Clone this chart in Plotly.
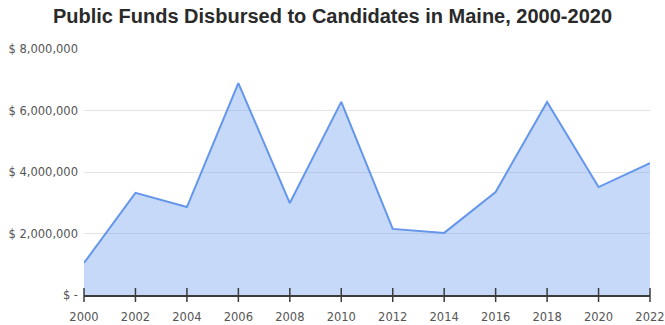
import plotly.graph_objects as go

years = [2000, 2002, 2004, 2006, 2008, 2010, 2012, 2014, 2016, 2018, 2020, 2022]
funds = [1040000, 3320000, 2860000, 6890000, 2990000, 6280000,
         2150000, 2020000, 3350000, 6280000, 3510000, 4290000]
y_ticks = [0, 2000000, 4000000, 6000000, 8000000]
y_tick_labels = ["$ -", "$ 2,000,000", "$ 4,000,000", "$ 6,000,000", "$ 8,000,000"]
title = "Public Funds Disbursed to Candidates in Maine, 2000-2020"

fig = go.Figure()
fig.add_trace(go.Scatter(
    x=years, y=funds, mode="lines", fill="tozeroy",
    line=dict(color="#6496ec", width=2),
    fillcolor="rgba(120,165,240,0.42)",
    hoverinfo="x+y", showlegend=False,
))
# tick marks crossing the x axis line, one per year
fig.add_trace(go.Scatter(
    x=years, y=[0] * len(years), mode="markers", cliponaxis=False,
    marker=dict(symbol="line-ns", size=10, line=dict(color="#3c3c3c", width=1.5)),
    hoverinfo="skip", showlegend=False,
))

fig.update_layout(
    width=665, height=325,
    margin=dict(l=84, r=15, t=49, b=30, autoexpand=False),
    paper_bgcolor="white", plot_bgcolor="white",
    title=dict(text=title, x=0.5, xanchor="center", y=0.95, yanchor="middle",
               font=dict(family="Liberation Sans, Arial", size=20, color="#2a2a2a",
                         weight="bold")),
    font=dict(family="DejaVu Sans", color="#555"),
    xaxis=dict(range=[2000, 2022], tickvals=years, ticktext=[str(y) for y in years],
               automargin=False,
               showgrid=False, zeroline=False, showline=True, linecolor="#3c3c3c", linewidth=2,
               ticks="", tickfont=dict(family="DejaVu Sans", size=11.5, color="#555"),
               ticklabelstandoff=10),
    yaxis=dict(range=[0, 8000000], tickvals=y_ticks, ticktext=y_tick_labels,
               automargin=False,
               showgrid=True, gridcolor="#e4e4e4", gridwidth=1, zeroline=False,
               ticks="", tickfont=dict(family="DejaVu Sans", size=11.5, color="#555"),
               ticklabelstandoff=5),
)
fig.write_html("out.html")
